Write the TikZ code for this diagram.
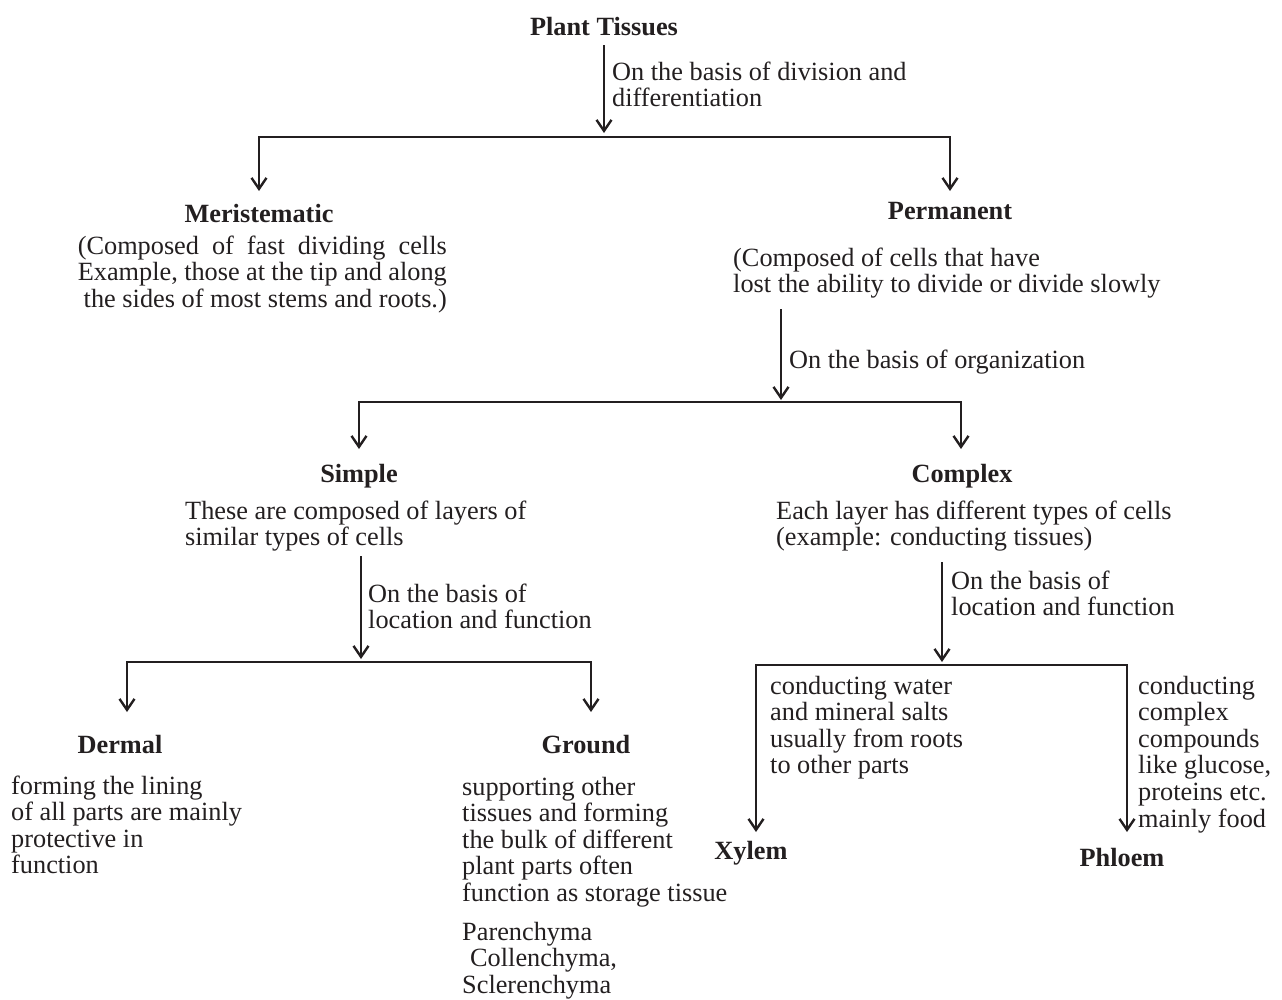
\documentclass[tikz,border=0pt]{standalone}
\usepackage{fontspec}
\setmainfont{Liberation Serif}
\usetikzlibrary{arrows.meta}
\definecolor{ink}{RGB}{35,31,32}
\newcommand{\mlines}[1]{\begin{tabular}[t]{@{}l@{}}#1\end{tabular}}
\newcommand{\mrlines}[1]{\begin{tabular}[t]{@{}r@{}}#1\end{tabular}}
\begin{document}
\begin{tikzpicture}[x=1pt,y=-1pt,
  txt/.style={inner sep=0pt, anchor=base west, text=ink, font=\fontsize{26.3}{26.6}\selectfont},
  ttl/.style={inner sep=0pt, anchor=base, text=ink, font=\fontsize{26.3}{26.6}\selectfont\bfseries},
  conn/.style={line width=2.4pt, draw=ink},
  arr/.style={conn, -{Straight Barb[length=11pt,width=15pt]}}
]
\useasboundingbox (0,0) rectangle (1282,999);

% Level 0
\node[ttl] (pt) at (604,35) {Plant Tissues};
\coordinate (t1) at (604,45);
\coordinate (h1) at (604,137);
\coordinate (e1l) at (259,191);
\coordinate (e1r) at (950,191);
\draw[arr] (t1) -- ([yshift=4pt]h1);
\draw[arr] (h1) -| (e1l);
\draw[arr] (h1) -| (e1r);
\node[txt] (l1) at (612,80) {\mlines{On the basis of division and\\differentiation}};

% Level 1
\node[ttl] (mer) at (259,222) {Meristematic};
\node[txt, anchor=base east] (merd) at (447,254) {\mrlines{\makebox[369pt][s]{(Composed of fast dividing cells}\\\makebox[369pt][s]{Example, those at the tip and along}\\the sides of most stems and roots.)}};
\node[ttl] (per) at (950,219) {Permanent};
\node[txt] (perd) at (733,266) {\mlines{(Composed of cells that have\\lost the ability to divide or divide slowly}};

\coordinate (t2) at (781,309);
\coordinate (h2) at (781,402);
\coordinate (e2l) at (359,449);
\coordinate (e2r) at (961,449);
\draw[arr] (t2) -- ([yshift=2pt]h2);
\draw[arr] (h2) -| (e2l);
\draw[arr] (h2) -| (e2r);
\node[txt] (l2) at (789,368) {On the basis of organization};

% Level 2
\node[ttl] (sim) at (359,482) {Simple};
\node[txt] (simd) at (185,519) {\mlines{These are composed of layers of\\similar types of cells}};
\node[ttl] (com) at (962,482) {Complex};
\node[txt] (comd) at (776,519) {\mlines{Each layer has different types of cells\\(example: conducting tissues)}};

\coordinate (t3) at (361,556);
\coordinate (h3) at (361,662);
\coordinate (e3l) at (127,712);
\coordinate (e3r) at (591,712);
\draw[arr] (t3) -- ([yshift=3pt]h3);
\draw[arr] (h3) -| (e3l);
\draw[arr] (h3) -| (e3r);
\node[txt] (l3) at (368,602) {\mlines{On the basis of\\location and function}};

\coordinate (t4) at (942,562);
\coordinate (h4) at (942,665);
\coordinate (e4l) at (756,832);
\coordinate (e4r) at (1127,832);
\draw[arr] (t4) -- ([yshift=3pt]h4);
\draw[arr] (h4) -| (e4l);
\draw[arr] (h4) -| (e4r);
\node[txt] (l4) at (951,589) {\mlines{On the basis of\\location and function}};

% Level 3
\node[ttl] (der) at (120,753) {Dermal};
\node[txt] (derd) at (11,794) {\mlines{forming the lining\\of all parts are mainly\\protective in\\function}};
\node[ttl] (gro) at (586,753) {Ground};
\node[txt] (grod) at (462,795) {\mlines{supporting other\\tissues and forming\\the bulk of different\\plant parts often\\function as storage tissue}};
\node[txt] (grot) at (462,940) {\mlines{Parenchyma\\\hspace*{8pt}Collenchyma,\\Sclerenchyma}};

\node[txt] (xyd) at (770,694) {\mlines{conducting water\\and mineral salts\\usually from roots\\to other parts}};
\node[txt] (phd) at (1138,694) {\mlines{conducting\\complex\\compounds\\like glucose,\\proteins etc.\\mainly food}};
\node[ttl] (xy) at (751,859) {Xylem};
\node[ttl] (ph) at (1122,866) {Phloem};
\end{tikzpicture}
\end{document}
